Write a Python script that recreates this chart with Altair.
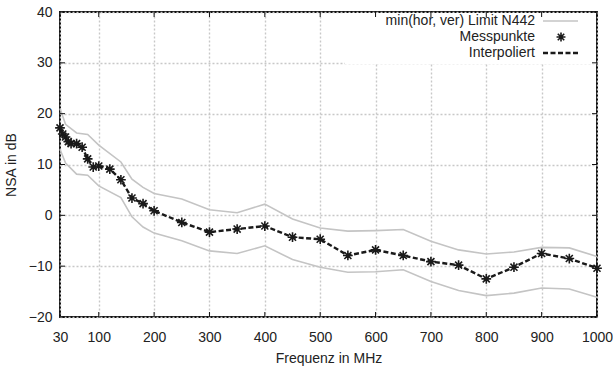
import altair as alt
import pandas as pd

# ---- data ----
freq_meas = [30, 35, 40, 45, 50, 60, 70, 80, 90, 100, 120, 140, 160, 180, 200, 250,
             300, 350, 400, 450, 500, 550, 600, 650, 700, 750, 800, 850, 900, 950, 1000]
nsa_meas = [17.2, 16.0, 15.4, 14.5, 14.1, 14.1, 13.4, 11.1, 9.5, 9.7, 9.1, 7.0, 3.4, 2.3, 0.9, -1.4,
            -3.3, -2.7, -2.1, -4.3, -4.7, -7.9, -6.8, -7.9, -9.1, -9.8, -12.5, -10.2, -7.5, -8.5, -10.4]

freq_lim = [30, 40, 60, 80, 100, 140, 160, 180, 200, 250,
            300, 350, 400, 450, 500, 550, 600, 650, 700, 750, 800, 850, 900, 950, 1000]
lim_upper = [21.0, 17.9, 16.2, 15.9, 13.8, 10.5, 7.1, 5.5, 4.3, 3.2,
             1.1, 0.5, 2.2, -0.7, -2.5, -3.1, -3.0, -2.8, -5.1, -6.8, -7.6, -7.2, -6.3, -6.4, -8.1]
lim_lower = [13.0, 10.3, 8.1, 7.9, 5.8, 3.5, -0.3, -2.3, -3.5, -5.0,
             -7.0, -7.5, -6.0, -8.7, -10.2, -11.2, -11.1, -10.7, -13.0, -14.8, -15.8, -15.3, -14.3, -14.5, -16.1]

x_ticks = [30, 100, 200, 300, 400, 500, 600, 700, 800, 900, 1000]
y_ticks = [-20, -10, 0, 10, 20, 30, 40]

legend_labels = ["min(hor, ver) Limit N442", "Messpunkte", "Interpoliert"]

# ---- tables ----
meas_df = pd.DataFrame({"f": freq_meas, "v": nsa_meas})
lim_df = pd.concat([
    pd.DataFrame({"f": freq_lim, "v": lim_upper, "s": "upper"}),
    pd.DataFrame({"f": freq_lim, "v": lim_lower, "s": "lower"}),
])
xt_df = pd.DataFrame({"f": x_ticks})
yt_df = pd.DataFrame({"v": y_ticks})

W, H = 537, 305
FONT = "Liberation Sans"
FS = 14

xscale = alt.Scale(domain=[30, 1000], nice=False, zero=False)
yscale = alt.Scale(domain=[-20, 40], nice=False, zero=False)

x_axis = alt.Axis(values=x_ticks, format="d", title="Frequenz in MHz", grid=True, ticks=False,
                  domain=False, labelPadding=13, titlePadding=7, labelFlush=False)
y_axis = alt.Axis(values=y_ticks, format="d", title="NSA in dB", grid=True, ticks=False,
                  domain=False, labelPadding=8, titlePadding=10)

limits = alt.Chart(lim_df).mark_line(color="#c4c4c4", strokeWidth=1.6).encode(
    x=alt.X("f:Q", scale=xscale, axis=x_axis),
    y=alt.Y("v:Q", scale=yscale, axis=y_axis),
    detail="s:N",
)

interp = alt.Chart(meas_df).mark_line(color="#1a1a1a", strokeWidth=2.4, strokeDash=[5, 2.5]).encode(
    x=alt.X("f:Q", scale=xscale), y=alt.Y("v:Q", scale=yscale)
)

STAR = "M-1,0L1,0M0,-1L0,1M-0.72,-0.72L0.72,0.72M-0.72,0.72L0.72,-0.72"
points = alt.Chart(meas_df).mark_point(shape=STAR, size=95, filled=False, color="#1a1a1a",
                                       strokeWidth=1.6, opacity=1).encode(
    x=alt.X("f:Q", scale=xscale), y=alt.Y("v:Q", scale=yscale)
)

one = pd.DataFrame({"a": [0]})

# legend box
box = alt.Chart(one).mark_rect(color="white").encode(
    x=alt.value(285), x2=alt.value(W - 1), y=alt.value(1), y2=alt.value(52)
)

legend_text = []
rows_y = [9, 25, 41]
for lbl, yy in zip(legend_labels, rows_y):
    legend_text.append(
        alt.Chart(pd.DataFrame({"t": [lbl]})).mark_text(
            align="right", baseline="middle", font=FONT, fontSize=FS, color="#222222"
        ).encode(text="t:N", x=alt.value(475), y=alt.value(yy))
    )

leg_line1 = alt.Chart(one).mark_rule(color="#c4c4c4", strokeWidth=1.6).encode(
    x=alt.value(483), x2=alt.value(518), y=alt.value(rows_y[0])
)
leg_star = alt.Chart(one).mark_point(shape=STAR, size=80, filled=False, color="#1a1a1a",
                                     strokeWidth=1.6, opacity=1).encode(
    x=alt.value(501), y=alt.value(rows_y[1])
)
leg_line3 = alt.Chart(one).mark_rule(color="#1a1a1a", strokeWidth=2.4, strokeDash=[5, 2.5]).encode(
    x=alt.value(483), x2=alt.value(518), y=alt.value(rows_y[2])
)

# inward ticks (gnuplot style) on all four sides
TK = 5
xt_bottom = alt.Chart(xt_df).mark_rule(color="#111111", strokeWidth=1).encode(
    x=alt.X("f:Q", scale=xscale), y=alt.value(H), y2=alt.value(H - TK)
)
xt_top = alt.Chart(xt_df).mark_rule(color="#111111", strokeWidth=1).encode(
    x=alt.X("f:Q", scale=xscale), y=alt.value(0), y2=alt.value(TK)
)
yt_left = alt.Chart(yt_df).mark_rule(color="#111111", strokeWidth=1).encode(
    y=alt.Y("v:Q", scale=yscale), x=alt.value(0), x2=alt.value(TK)
)
yt_right = alt.Chart(yt_df).mark_rule(color="#111111", strokeWidth=1).encode(
    y=alt.Y("v:Q", scale=yscale), x=alt.value(W), x2=alt.value(W - TK)
)

chart = alt.layer(
    limits, interp, points, box, *legend_text, leg_line1, leg_star, leg_line3,
    xt_bottom, xt_top, yt_left, yt_right
).properties(
    width=W, height=H,
    autosize=alt.AutoSizeParams(type="none"),
    padding={"left": 60, "top": 12, "right": 16, "bottom": 51},
    background="white",
).configure_view(
    stroke="#111111", strokeWidth=2
).configure_axis(
    gridColor="#c8c8c8", gridDash=[2, 2], gridWidth=1.4, gridOpacity=1,
    labelFont=FONT, labelFontSize=FS, labelColor="#222222",
    titleFont=FONT, titleFontSize=FS, titleColor="#222222", titleFontWeight="normal",
)

chart.save("out.html", embed_options={"renderer": "svg", "actions": False})
